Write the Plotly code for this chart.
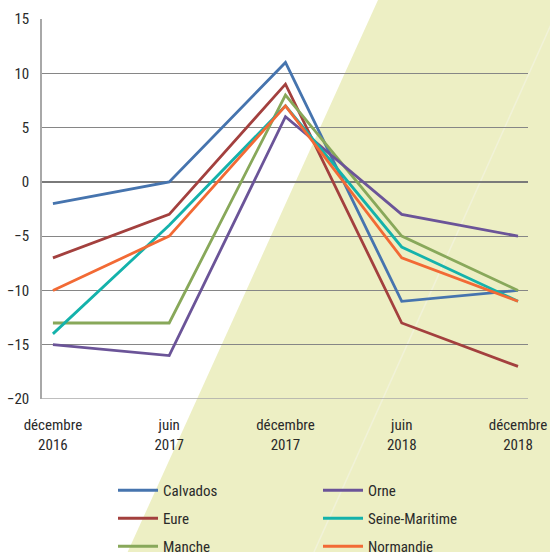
import plotly.graph_objects as go

categories = ["décembre<br>2016", "juin<br>2017", "décembre<br>2017", "juin<br>2018", "décembre<br>2018"]
calvados = [-2, 0, 11, -11, -10]
eure = [-7, -3, 9, -13, -17]
manche = [-13, -13, 8, -5, -10]
orne = [-15, -16, 6, -3, -5]
seine_maritime = [-14, -4, 7, -6, -11]
normandie = [-10, -5, 7, -7, -11]
y_ticks = [-20, -15, -10, -5, 0, 5, 10, 15]

FONT = "Roboto Condensed, Liberation Sans Narrow, Roboto, sans-serif"
TXT = "#2a2a2a"

series = [
    ("Calvados", calvados, "#4674AE", "legend"),
    ("Eure", eure, "#A3403E", "legend"),
    ("Manche", manche, "#88A85A", "legend"),
    ("Orne", orne, "#6B5498", "legend2"),
    ("Seine-Maritime", seine_maritime, "#14B2AB", "legend2"),
    ("Normandie", normandie, "#F26A35", "legend2"),
]

fig = go.Figure()
for name, vals, col, lg in series:
    fig.add_trace(go.Scatter(
        x=categories, y=vals, name=name, mode="lines",
        line=dict(color=col, width=2.8),
        legend=lg, legendgroup=name,
    ))

W, H = 550, 552
L, R, T, B = 42, 22, 19, 153
pw, ph = W - L - R, H - T - B

def px(x):
    return (x - L) / pw

def py(y):
    return (H - B - y) / ph

poly = f"M {px(378)},{py(0)} L {px(560)},{py(0)} L {px(560)},{py(560)} L {px(124)},{py(560)} Z"
fig.add_shape(type="path", path=poly, xref="paper", yref="paper",
              fillcolor="#EDEFC4", line=dict(width=0), layer="below")
fig.add_shape(type="line", xref="paper", yref="paper",
              x0=px(562), y0=py(0), x1=px(314), y1=py(552),
              line=dict(color="#F1F2D8", width=1.5), layer="below")

legend_common = dict(
    bgcolor="rgba(0,0,0,0)", font=dict(family=FONT, size=15, color=TXT),
    orientation="v", xanchor="left", yanchor="top", tracegroupgap=5.5,
    itemwidth=40,
)

fig.update_layout(
    width=W, height=H,
    margin=dict(l=L, r=R, t=T, b=B, autoexpand=False),
    paper_bgcolor="white", plot_bgcolor="rgba(0,0,0,0)",
    font=dict(family=FONT, size=14, color=TXT),
    showlegend=True,
    legend=dict(x=px(113), y=py(474), **legend_common),
    legend2=dict(x=px(318), y=py(474), **legend_common),
    xaxis=dict(
        range=[-0.094, 4.086], showgrid=False, zeroline=False,
        showline=False, ticks="", tickfont=dict(family=FONT, size=15, color=TXT),
        ticklabelstandoff=15, fixedrange=True,
    ),
    yaxis=dict(
        range=[-20, 15], tickvals=y_ticks, showgrid=True, gridcolor="#868686",
        gridwidth=1, zeroline=True, zerolinecolor="#7a7a7a", zerolinewidth=2,
        showline=True, linecolor="#a8a8a8", linewidth=1.5, ticks="",
        tickfont=dict(family=FONT, size=15, color=TXT), ticklabelstandoff=8,
        fixedrange=True,
    ),
)
fig.add_shape(type="line", xref="paper", yref="y", x0=0, x1=1, y0=-20, y1=-20,
              line=dict(color="#a8a8a8", width=1.5), layer="below")

fig.write_html("out.html", config={"displayModeBar": False},
               post_script="document.body.style.margin='0';")
